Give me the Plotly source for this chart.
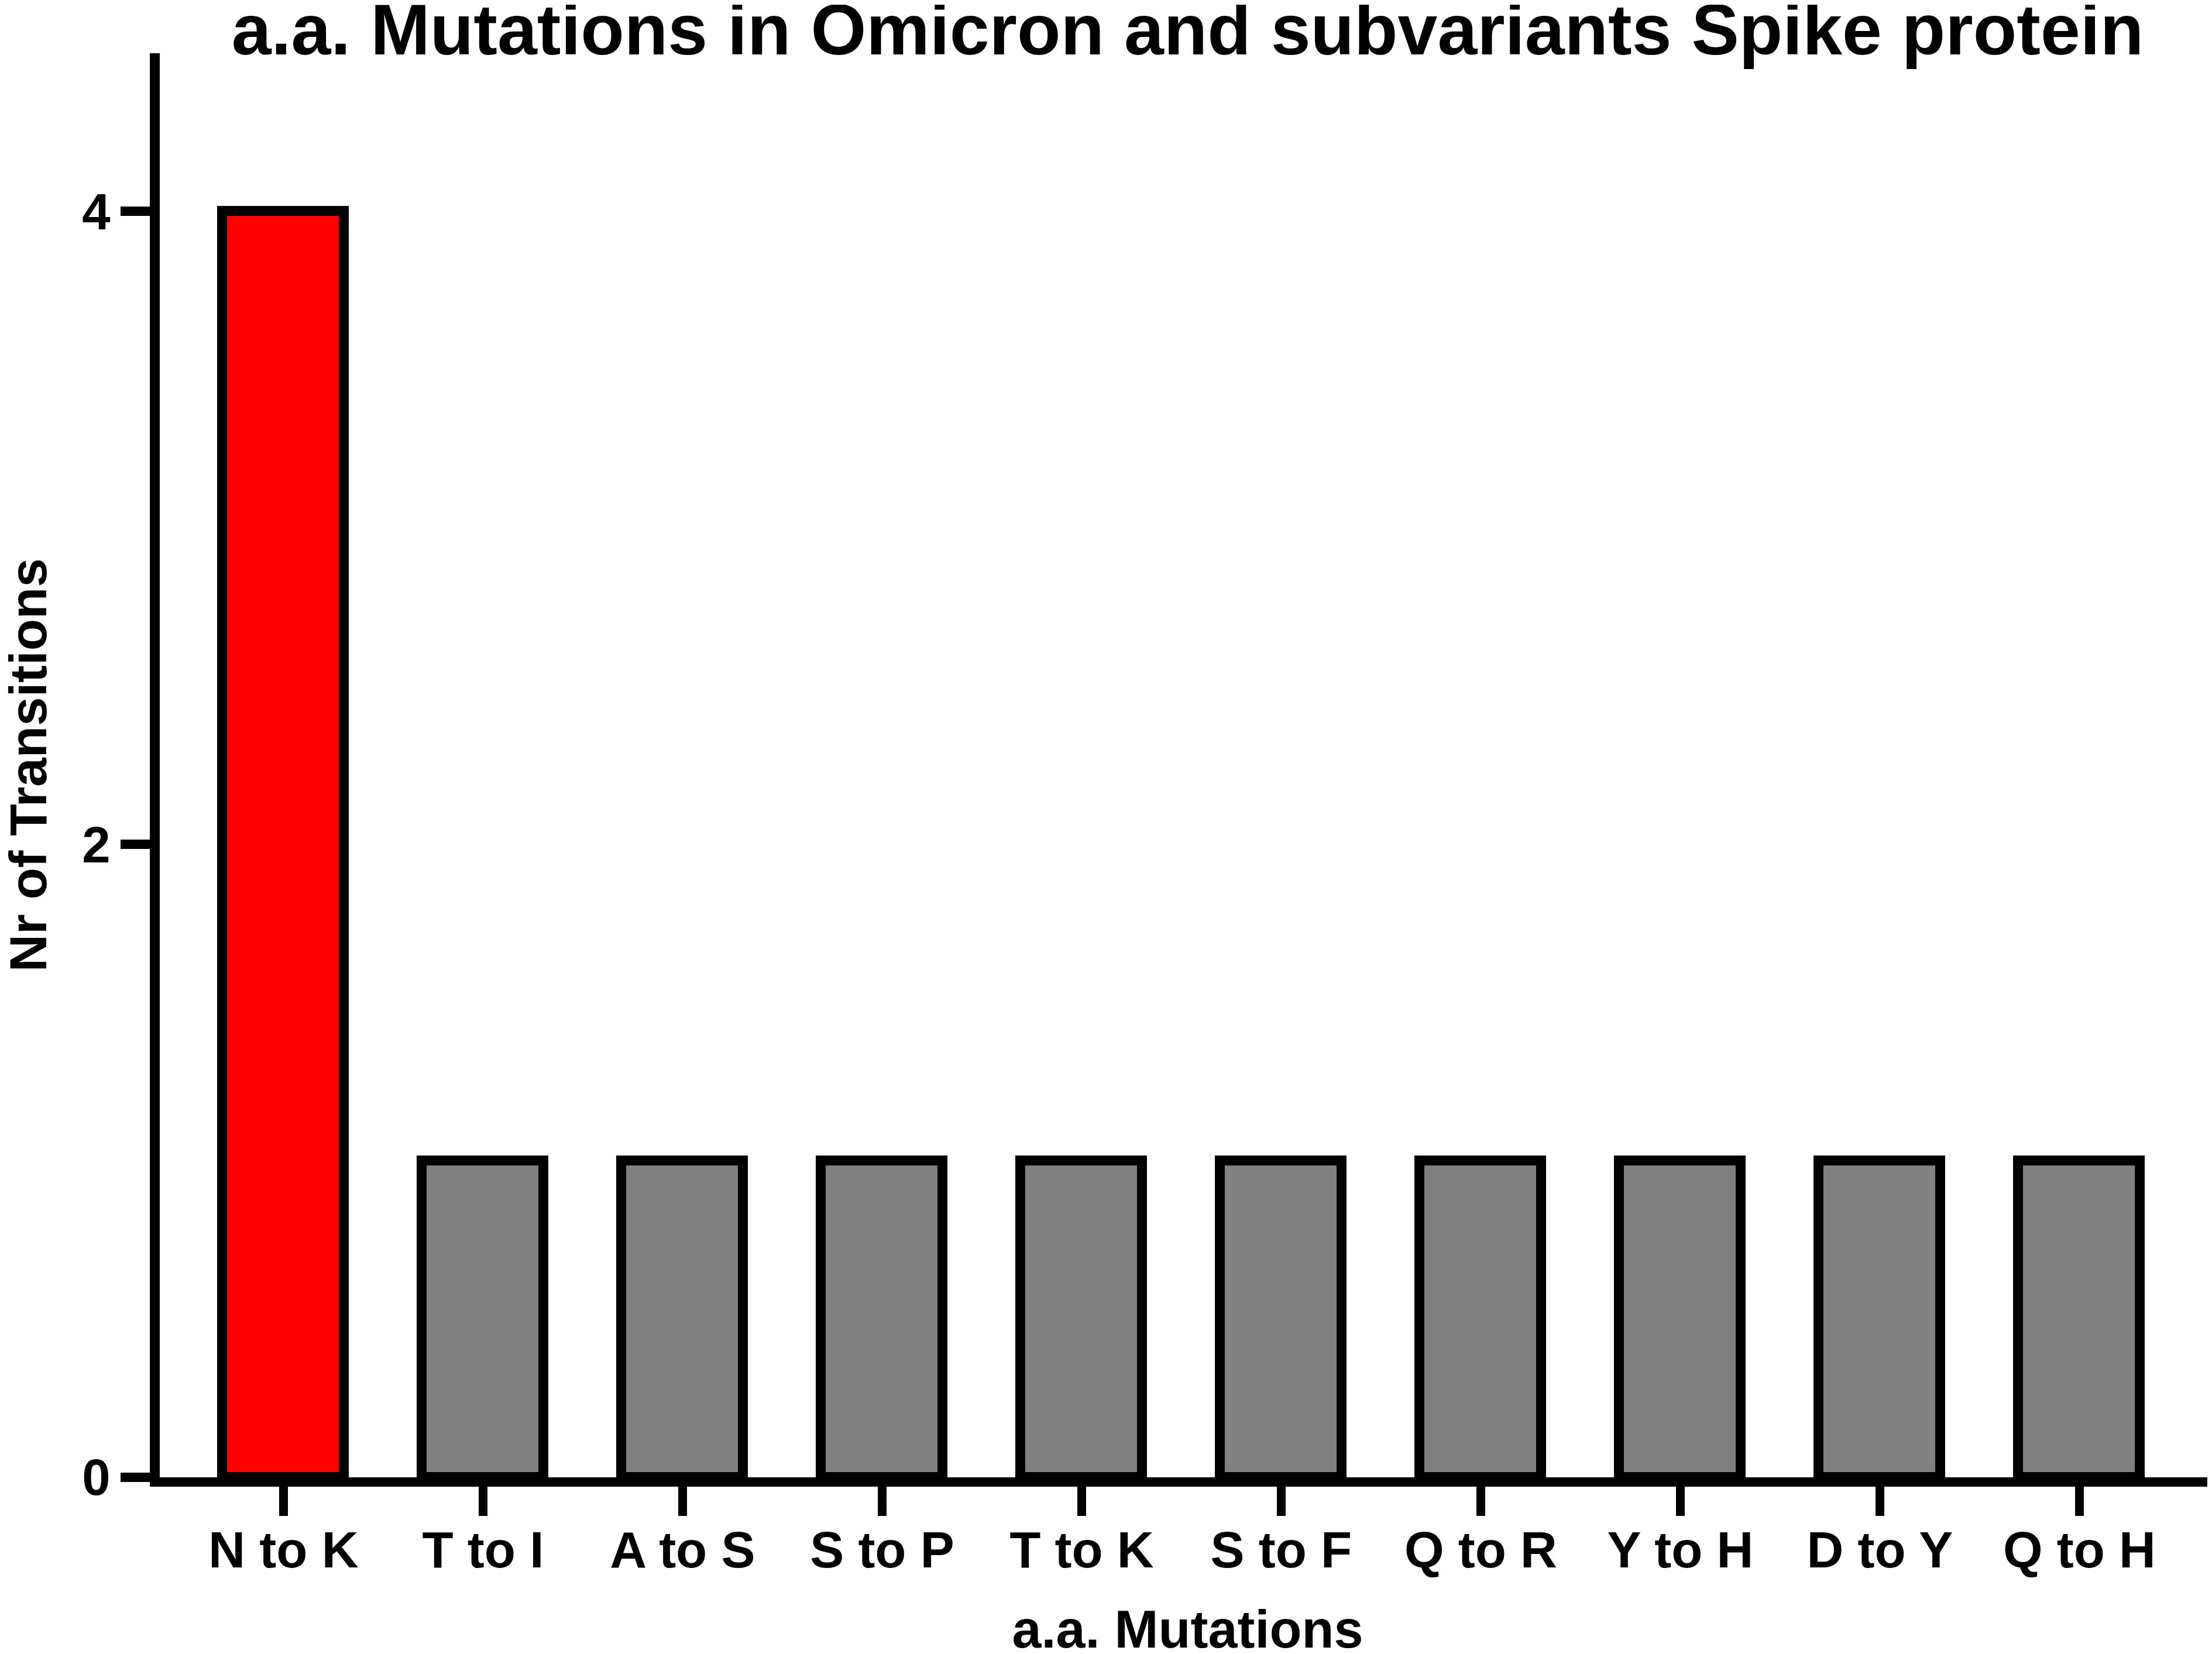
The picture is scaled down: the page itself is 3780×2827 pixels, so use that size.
import plotly.graph_objects as go

# a.a. mutation categories and their counts
mutations = ["N to K", "T to I", "A to S", "S to P", "T to K",
             "S to F", "Q to R", "Y to H", "D to Y", "Q to H"]
transitions = [4, 1, 1, 1, 1, 1, 1, 1, 1, 1]
bar_colors = ["#FF0000"] + ["#808080"] * 9

y_ticks = [0, 2, 4]

FONT = "Liberation Sans, Arial, Helvetica, sans-serif"

fig = go.Figure()

fig.add_trace(
    go.Bar(
        x=list(range(len(mutations))),
        y=transitions,
        width=0.61,
        marker=dict(color=bar_colors, line=dict(color="black", width=17)),
    )
)

fig.update_layout(
    width=3780,
    height=2827,
    margin=dict(l=265, r=2, t=83, b=310),
    plot_bgcolor="white",
    paper_bgcolor="white",
    showlegend=False,
    bargap=0,
    font=dict(family=FONT, color="black", weight="bold"),
    title=dict(
        text="a.a. Mutations in Omicron and subvariants Spike protein",
        font=dict(size=122, family=FONT, color="black", weight="bold"),
        x=0.5, xref="paper", xanchor="center",
        y=0.985, yref="container", yanchor="middle",
    ),
)

# y title as an annotation so it can sit right against the left edge
fig.add_annotation(
    text="Nr of Transitions",
    textangle=-90,
    xref="paper", yref="paper",
    x=-0.064, y=0.5,
    xanchor="center", yanchor="middle",
    showarrow=False,
    font=dict(size=89, family=FONT, color="black", weight="bold"),
)

fig.update_xaxes(
    range=[-0.62, 9.682],
    tickvals=list(range(len(mutations))),
    ticktext=mutations,
    automargin=False,
    showgrid=False,
    zeroline=False,
    showline=True,
    linecolor="black",
    linewidth=16,
    ticks="outside",
    ticklen=50,
    tickwidth=15,
    tickcolor="black",
    ticklabelstandoff=-16,
    tickfont=dict(size=87, family=FONT, color="black", weight="bold"),
    title=dict(text="a.a. Mutations", standoff=90,
               font=dict(size=90, family=FONT, color="black", weight="bold")),
)

fig.update_yaxes(
    range=[0, 4.5],
    tickvals=y_ticks,
    automargin=False,
    showgrid=False,
    zeroline=False,
    showline=True,
    linecolor="black",
    linewidth=17,
    ticks="outside",
    ticklen=50,
    tickwidth=16,
    tickcolor="black",
    tickfont=dict(size=87, family=FONT, color="black", weight="bold"),
)

fig.write_html("out.html")
